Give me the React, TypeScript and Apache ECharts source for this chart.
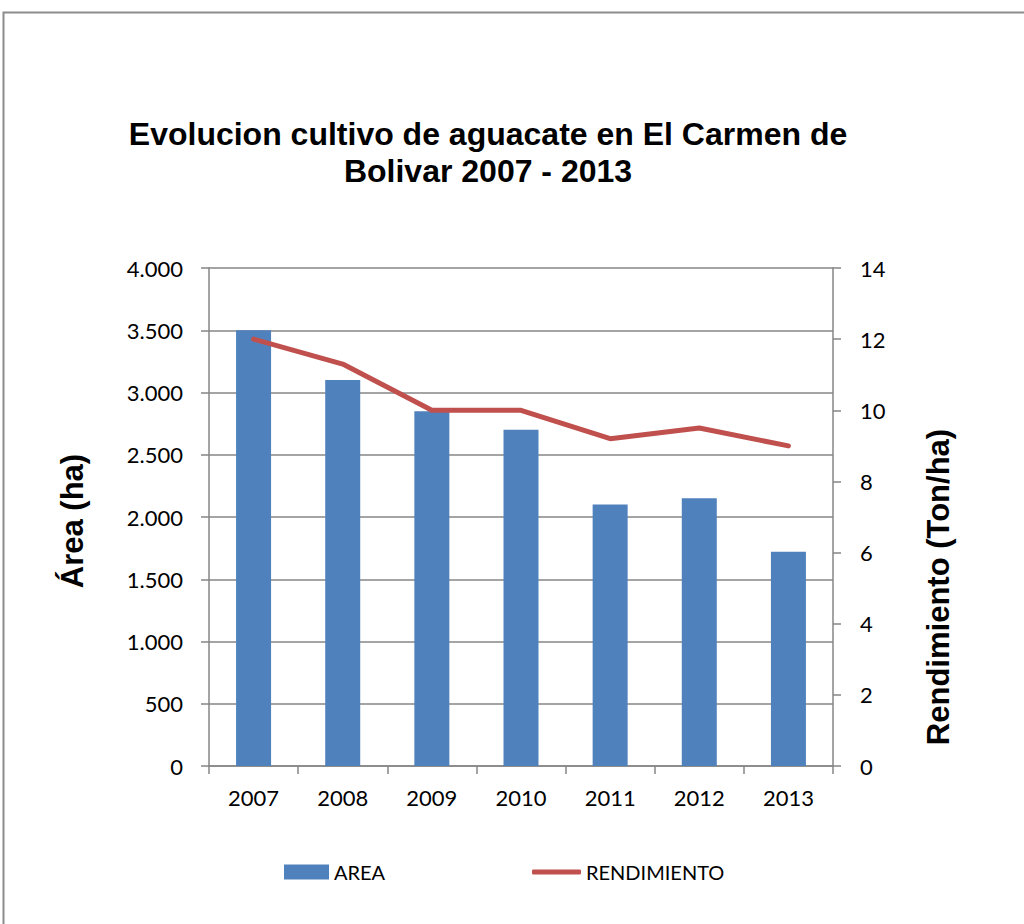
import React, { useEffect, useRef } from "react";
import * as echarts from "echarts";

const years = ["2007", "2008", "2009", "2010", "2011", "2012", "2013"];
const areaValues = [3500, 3100, 2850, 2700, 2100, 2150, 1720];
const rendimientoValues = [12.0, 11.3, 10.0, 10.0, 9.2, 9.5, 9.0];

const titleLines = ["Evolucion cultivo de aguacate en El Carmen de", "Bolivar 2007 - 2013"];
const leftAxisTitle = "Área (ha)";
const rightAxisTitle = "Rendimiento (Ton/ha)";

const fmt = (v: number) => String(v).replace(/\B(?=(\d{3})+(?!\d))/g, ".");

export default function App() {
  const ref = useRef<HTMLDivElement>(null);
  useEffect(() => {
    if (!ref.current) return;
    const chart = echarts.init(ref.current, null, { renderer: "svg" });
    const tickFont = { fontFamily: "Lato", fontSize: 22, color: "#000" };
    const legendText = { fontFamily: "Lato", fontSize: 20, color: "#000" };
    const gray = "#868686";
    chart.setOption({
      animation: false,
      backgroundColor: "#fff",
      grid: { left: 209, right: 191, top: 268, bottom: 158 },
      graphic: [
        {
          type: "rect",
          shape: { x: 3.5, y: 12.5, width: 1040, height: 940 },
          style: { fill: "none", stroke: "#8c8c8c", lineWidth: 2 },
          silent: true,
        },
        {
          type: "text",
          x: 488,
          y: 152,
          style: {
            text: titleLines.join("\n"),
            font: "bold 32px 'Liberation Sans', Arial, sans-serif",
            fill: "#000",
            align: "center",
            verticalAlign: "middle",
            lineHeight: 37,
          },
        },
        {
          type: "text",
          x: 72,
          y: 521,
          rotation: Math.PI / 2,
          style: {
            text: leftAxisTitle,
            font: "bold 31px 'Liberation Sans', Arial, sans-serif",
            fill: "#000",
            align: "center",
            verticalAlign: "middle",
          },
        },
        {
          type: "text",
          x: 938,
          y: 587,
          rotation: Math.PI / 2,
          style: {
            text: rightAxisTitle,
            font: "bold 31px 'Liberation Sans', Arial, sans-serif",
            fill: "#000",
            align: "center",
            verticalAlign: "middle",
          },
        },
      ],
      legend: [
        {
          left: 284,
          top: 862,
          padding: 0,
          itemWidth: 45,
          itemHeight: 15,
          textStyle: legendText,
          data: [{ name: "AREA", icon: "rect" }],
        },
        {
          left: 532,
          top: 862,
          padding: 0,
          itemWidth: 49,
          itemHeight: 5,
          textStyle: legendText,
          data: [{ name: "RENDIMIENTO", icon: "roundRect" }],
        },
      ],
      xAxis: {
        type: "category",
        data: years,
        axisLine: { lineStyle: { color: gray, width: 1.5 } },
        axisTick: { show: true, length: 8, lineStyle: { color: gray, width: 1.5 } },
        axisLabel: { ...tickFont, margin: 20 },
      },
      yAxis: [
        {
          type: "value",
          min: 0,
          max: 4000,
          interval: 500,
          axisLine: { show: true, lineStyle: { color: gray, width: 1.5 } },
          axisTick: { show: true, length: 8, lineStyle: { color: gray, width: 1.5 } },
          splitLine: { show: true, lineStyle: { color: gray, width: 1.5 } },
          axisLabel: { ...tickFont, margin: 26, formatter: (v: number) => fmt(v) },
        },
        {
          type: "value",
          min: 0,
          max: 14,
          interval: 2,
          position: "right",
          axisLine: { show: true, lineStyle: { color: gray, width: 1.5 } },
          axisTick: { show: true, length: 8, lineStyle: { color: gray, width: 1.5 } },
          splitLine: { show: false },
          axisLabel: { ...tickFont, margin: 27 },
        },
      ],
      series: [
        {
          name: "AREA",
          type: "bar",
          data: areaValues,
          barWidth: 35,
          itemStyle: { color: "#4F81BD" },
        },
        {
          name: "RENDIMIENTO",
          type: "line",
          yAxisIndex: 1,
          data: rendimientoValues,
          symbol: "none",
          showSymbol: false,
          lineStyle: { color: "#C0504D", width: 5, cap: "round", join: "round" },
          itemStyle: { color: "#C0504D" },
        },
      ],
    });
    return () => chart.dispose();
  }, []);
  return (
    <div
      ref={ref}
      style={{ position: "absolute", left: 0, top: 0, width: 1024, height: 924, background: "#fff" }}
    />
  );
}
